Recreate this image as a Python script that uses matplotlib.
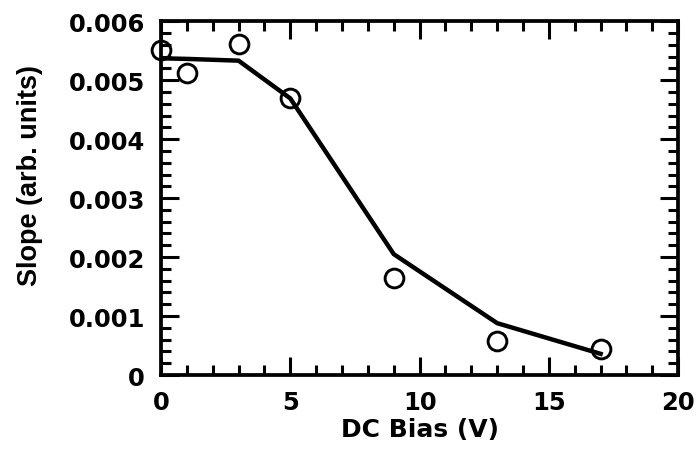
import matplotlib.pyplot as plt
from matplotlib.ticker import MultipleLocator

plt.rcParams['font.family'] = 'DejaVu Sans'
plt.rcParams['font.weight'] = 'bold'

# measured points
bias_pts = [0, 1, 3, 5, 9, 13, 17]
slope_pts = [0.00551, 0.00512, 0.00561, 0.00469, 0.00164, 0.00058, 0.00044]

# fit curve
bias_fit = [0, 1, 3, 5, 9, 13, 17]
slope_fit = [0.00537, 0.00536, 0.00533, 0.00469, 0.00205, 0.00088, 0.00036]

xticks = [0, 5, 10, 15, 20]
yticks = [0, 0.001, 0.002, 0.003, 0.004, 0.005, 0.006]
ylabels = ['0', '0.001', '0.002', '0.003', '0.004', '0.005', '0.006']

fig = plt.figure(figsize=(6.97, 4.52), dpi=100)
ax = fig.add_axes([0.231, 0.168, 0.742, 0.783])

ax.plot(bias_fit, slope_fit, color='black', lw=3.2, solid_joinstyle='miter')
ax.plot(bias_pts, slope_pts, 'o', ms=13.5, mfc='none', mec='black', mew=2.1,
        clip_on=False)

ax.set_xlim(0, 20)
ax.set_ylim(0, 0.006)
ax.set_xticks(xticks)
ax.set_yticks(yticks)
ax.set_yticklabels(ylabels)
ax.xaxis.set_minor_locator(MultipleLocator(1))
ax.yaxis.set_minor_locator(MultipleLocator(0.0002))

for s in ax.spines.values():
    s.set_linewidth(2.7)

ax.tick_params(which='both', direction='in', top=True, right=True, width=2.2)
ax.tick_params(which='major', length=13)
ax.tick_params(which='minor', length=7)
ax.tick_params(axis='y', which='major', pad=11.5, labelsize=17.5)
ax.tick_params(axis='x', which='major', pad=11, labelsize=17.5)

ax.set_xlabel('DC Bias (V)', fontsize=18, fontweight='bold')
ax.xaxis.set_label_coords(0.5, -0.119)
ax.set_ylabel('Slope (arb. units)', fontsize=19.5, fontweight='bold',
              family='Liberation Sans')
ax.yaxis.set_label_coords(-0.228, 0.568)

fig.savefig('out.png', dpi=100)
